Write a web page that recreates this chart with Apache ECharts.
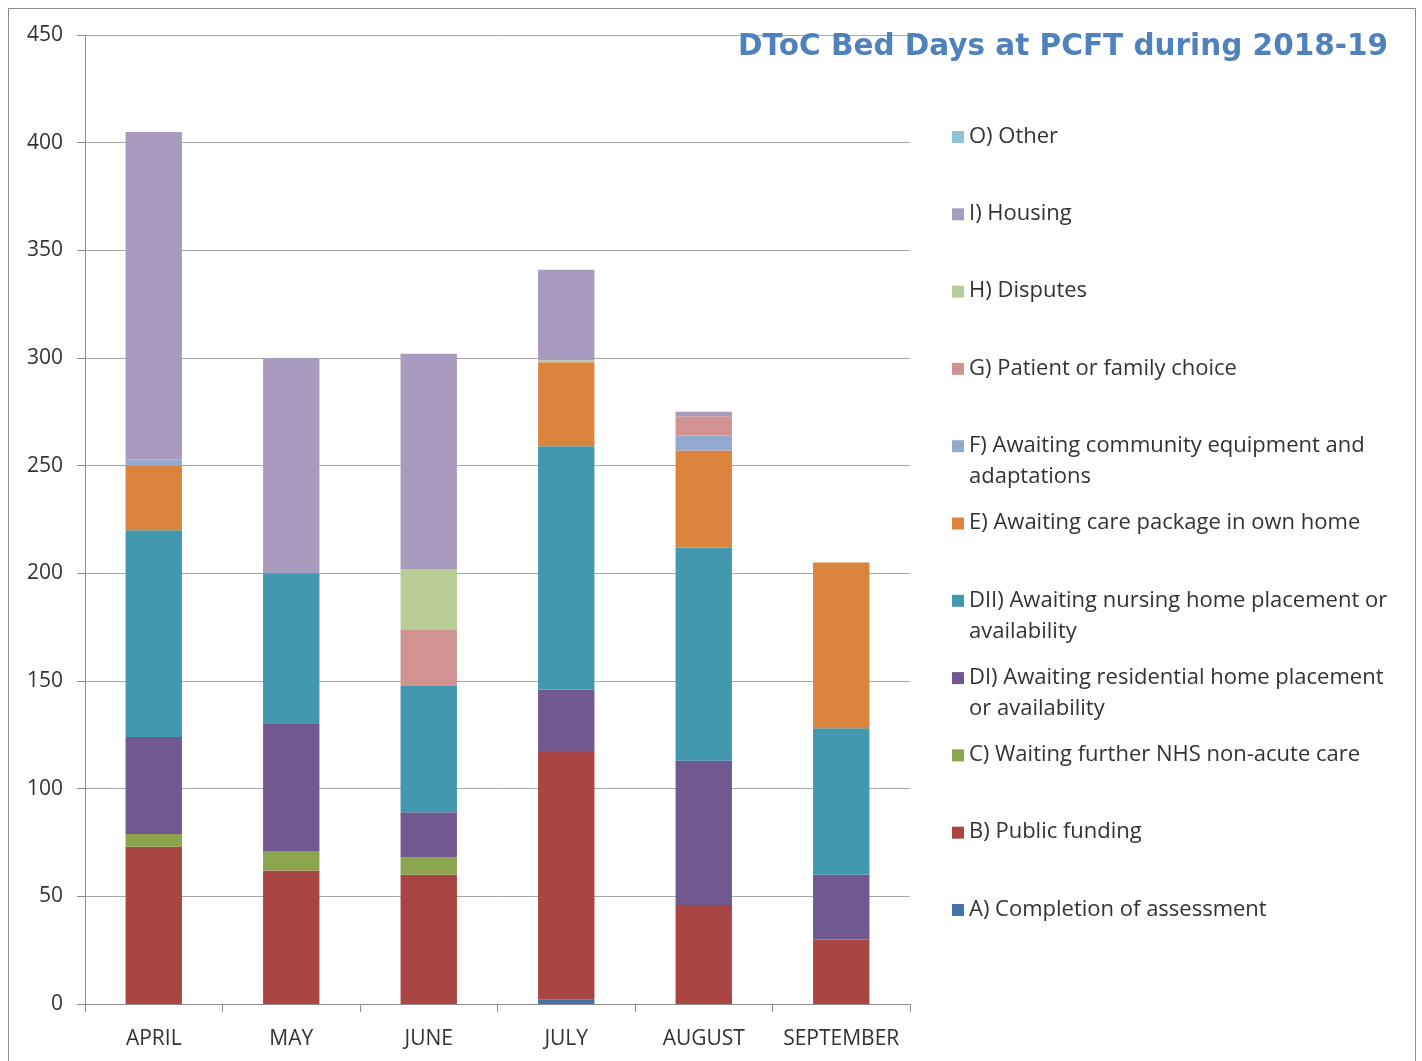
<!DOCTYPE html>
<html>
<head>
<meta charset="utf-8">
<script src="https://cdn.jsdelivr.net/npm/echarts@6/dist/echarts.min.js"></script>
<style>
html,body{margin:0;padding:0;background:#fff;}
#chart{width:1422px;height:1061px;position:absolute;left:0;top:0;}
#frame{position:absolute;left:8px;top:8px;width:1406px;height:1060px;border:1px solid #8c8c8c;pointer-events:none;}
</style>
</head>
<body>
<div id="chart"></div>
<div id="frame"></div>
<script>
// Categories
const months = ['APRIL', 'MAY', 'JUNE', 'JULY', 'AUGUST', 'SEPTEMBER'];

// Series values (bed days), bottom of stack first
const seriesNames = [
  'A) Completion of assessment',
  'B) Public funding',
  'C) Waiting further NHS non-acute care',
  'DI) Awaiting residential home placement or availability',
  'DII) Awaiting nursing home placement or availability',
  'E) Awaiting care package in own home',
  'F) Awaiting community equipment and adaptations',
  'G) Patient or family choice',
  'H) Disputes',
  'I) Housing',
  'O) Other'
];
const valA   = [0, 0, 0, 2, 0, 0];
const valB   = [73, 62, 60, 115, 46, 30];
const valC   = [6, 9, 8, 0, 0, 0];
const valDI  = [45, 59, 21, 29, 67, 30];
const valDII = [96, 70, 59, 113, 99, 68];
const valE   = [30, 0, 0, 39, 45, 77];
const valF   = [3, 0, 0, 0, 7, 0];
const valG   = [0, 0, 26, 0, 9, 0];
const valH   = [0, 0, 28, 1, 0, 0];
const valI   = [152, 100, 100, 42, 2, 0];
const valO   = [0, 0, 0, 0, 0, 0];

// Legend display text (two lines each)
const legendText = {
  'A) Completion of assessment': 'A) Completion of assessment\n ',
  'B) Public funding': 'B) Public funding\n ',
  'C) Waiting further NHS non-acute care': 'C) Waiting further NHS non-acute care\n ',
  'DI) Awaiting residential home placement or availability': 'DI) Awaiting residential home placement\nor availability',
  'DII) Awaiting nursing home placement or availability': 'DII) Awaiting nursing home placement or\navailability',
  'E) Awaiting care package in own home': 'E) Awaiting care package in own home\n ',
  'F) Awaiting community equipment and adaptations': 'F) Awaiting community equipment and\nadaptations',
  'G) Patient or family choice': 'G) Patient or family choice\n ',
  'H) Disputes': 'H) Disputes\n ',
  'I) Housing': 'I) Housing\n ',
  'O) Other': 'O) Other\n '
};

// Y tick settings
const yMin = 0, yMax = 450, yStep = 50;

const colors = ['#4572A7', '#A94542', '#8AA54E', '#71598F', '#4298AF', '#DB843D', '#93A9CF', '#D09392', '#B9CD96', '#A99BBD', '#92C3D5'];
const allValues = [valA, valB, valC, valDI, valDII, valE, valF, valG, valH, valI, valO];

const chart = echarts.init(document.getElementById('chart'));
const series = seriesNames.map((n, i) => ({
  name: n,
  type: 'bar',
  stack: 'total',
  barWidth: '41%',
  data: allValues[i],
  itemStyle: { color: colors[i] }
}));

chart.setOption({
  animation: false,
  textStyle: { fontFamily: 'Open Sans' },
  title: {
    text: 'DToC Bed Days at PCFT during 2018-19',
    right: 29,
    top: 27,
    textStyle: { color: '#4F81BD', fontSize: 29.5, fontWeight: 'bold', fontFamily: 'DejaVu Sans' }
  },
  legend: {
    orient: 'vertical',
    left: 952,
    top: 121,
    padding: 0,
    itemGap: 15.3,
    itemWidth: 12,
    itemHeight: 42,
    icon: 'path://M0,0H12V12H0Z M0,42',
    data: seriesNames.slice().reverse(),
    formatter: n => legendText[n],
    itemStyle: { borderWidth: 0 },
    textStyle: { fontSize: 22, color: '#333', lineHeight: 31, fontFamily: 'Open Sans' }
  },
  grid: { left: 85, right: 512, top: 35, bottom: 57 },
  xAxis: {
    type: 'category',
    data: months,
    axisLine: { lineStyle: { color: '#8c8c8c' } },
    axisTick: { show: true, interval: 0, length: 8, lineStyle: { color: '#8c8c8c' } },
    axisLabel: { interval: 0, color: '#333', fontSize: 21, margin: 25, fontFamily: 'Open Sans' }
  },
  yAxis: {
    type: 'value',
    min: yMin, max: yMax, interval: yStep,
    axisLine: { show: true, lineStyle: { color: '#8c8c8c' } },
    axisTick: { show: true, length: 8, lineStyle: { color: '#8c8c8c' } },
    splitLine: { lineStyle: { color: '#a6a6a6', width: 1 } },
    axisLabel: { color: '#333', fontSize: 21, margin: 22, fontFamily: 'Open Sans' }
  },
  series: series
});
</script>
</body>
</html>
